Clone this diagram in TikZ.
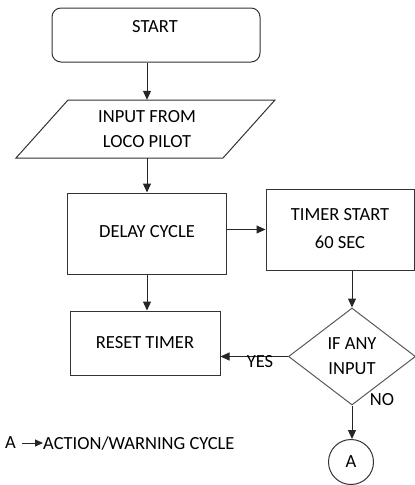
\documentclass[tikz,border=0pt]{standalone}
\usepackage{fontspec}
\setmainfont{Carlito}
\usetikzlibrary{shapes.geometric,arrows.meta}
\begin{document}
\begin{tikzpicture}[x=1pt,y=-1pt,
  every node/.style={font=\fontsize{18.5}{25}\selectfont, text=black, align=center, inner sep=0pt},
  box/.style={draw=black!80, line width=1pt, rectangle},
  conn/.style={draw=black!85, line width=1pt, -{Triangle[length=9pt,width=8pt]}},
  lbl/.style={font=\fontsize{18.5}{22}\selectfont}]
\useasboundingbox (0,0) rectangle (415,485);
% start
\node[box, rounded corners=9pt, minimum width=208pt, minimum height=54pt] (start) at (156,35) {};
\node (starttxt) at (155,27) {START};
% input parallelogram
\node[minimum width=150pt, minimum height=58pt] (inp) at (147,129) {INPUT FROM\\LOCO PILOT};
\draw[draw=black!80, line width=1pt] (68,100) -- (275,100) -- (223,158) -- (16,158) -- cycle;
% delay
\node[box, minimum width=159pt, minimum height=81pt] (delay) at (147,233.5) {\raisebox{4pt}{DELAY CYCLE}};
% timer
\node[box, minimum width=148pt, minimum height=81pt] (timer) at (340,229.5) {\raisebox{-7pt}{\begin{tabular}{@{}c@{}}TIMER START\\[3pt]60 SEC\end{tabular}}};
% reset
\node[box, minimum width=150pt, minimum height=64pt] (reset) at (145,343) {\raisebox{-2pt}{RESET TIMER}};
% decision
\node[diamond, draw=black!65, line width=1pt, minimum width=127pt, minimum height=97pt] (dec) at (352,356.5) {IF ANY\\INPUT};
% connector circle
\node[circle, draw=black!80, line width=1pt, minimum size=45pt] (conA) at (351,462) {A};
% arrows
\draw[conn] (start.south -| 147,0) -- (inp.north);
\draw[conn] (inp.south) -- (inp.south |- delay.north);
\draw[conn] (delay.east |- timer.west) -- (timer.west);
\draw[conn] (delay.south) -- (delay.south |- reset.north);
\draw[conn] (dec.north |- timer.south) -- (dec.north);
\draw[conn] (dec.west) -- (dec.west -| reset.east);
\draw[conn] (dec.south) -- (dec.south |- conA.north);
\node[lbl] (yes) at (260,362) {YES};
\node[lbl] (no) at (382,400) {NO};
% legend
\node[lbl, anchor=west] (legA) at (5,443) {A};
\node[lbl, anchor=west] (legtxt) at (43,443) {ACTION/WARNING CYCLE};
\draw[draw=black!85, line width=1pt, -{Triangle[length=8pt,width=7pt]}] (legA.east) ++(6,0) coordinate (legs) -- (legtxt.west);
\end{tikzpicture}
\end{document}
